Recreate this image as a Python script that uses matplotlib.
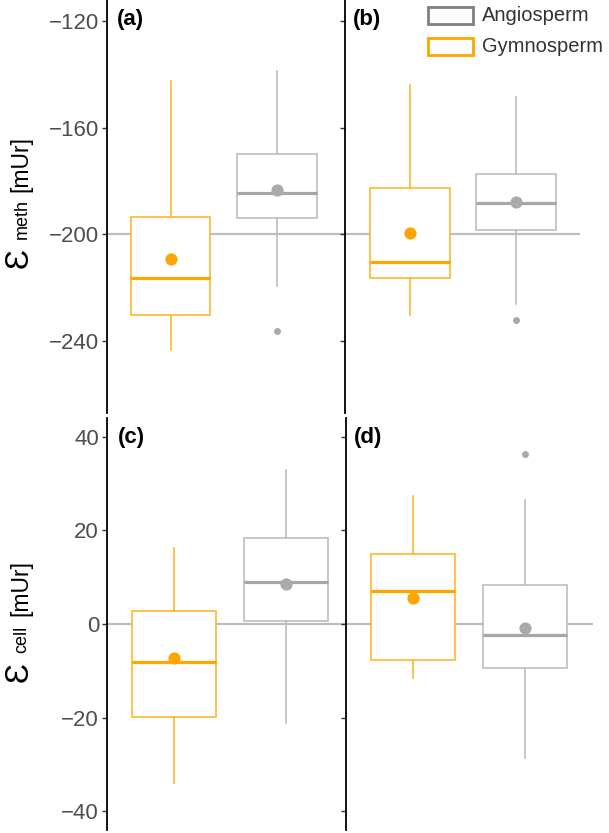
import matplotlib
matplotlib.use('Agg')
import matplotlib.pyplot as plt
from matplotlib.patches import Rectangle

plt.rcParams['font.family'] = ['Liberation Sans', 'DejaVu Sans']

W, H = 609, 833
orange = '#FFA500'
orange_line = '#FFB52E'
grey_line = '#BDBDBD'
grey_med = '#A6A6A6'
grey_dot = '#AAAAAA'

# five-number summaries: [lower whisker, q1, median, q3, upper whisker]
a_gym = [-243.6, -230.4, -216.6, -193.5, -142.5]
a_ang = [-219.5, -194.1, -184.7, -170.0, -138.8]
b_gym = [-230.4, -216.4, -210.4, -182.6, -144.0]
b_ang = [-226.4, -198.5, -188.3, -177.5, -148.7]
c_gym = [-34.0, -19.8, -8.0, 2.7, 16.2]
c_ang = [-21.2, 0.7, 8.9, 18.4, 32.9]
d_gym = [-11.5, -7.7, 7.0, 14.9, 27.4]
d_ang = [-28.6, -9.4, -2.3, 8.3, 26.5]

# means [gymnosperm, angiosperm]
a_mean = [-209.3, -183.5]
b_mean = [-199.7, -188.0]
c_mean = [-7.3, 8.5]
d_mean = [5.5, -0.9]

# outliers [gymnosperm, angiosperm]
a_out = [[], [-236.3]]
b_out = [[], [-232.3]]
c_out = [[], []]
d_out = [[], [36.3]]

top_ticks = [-120, -160, -200, -240]
bottom_ticks = [40, 20, 0, -20, -40]
legend_labels = ['Angiosperm', 'Gymnosperm']


def stats(five, mean, fliers):
    return dict(whislo=five[0], q1=five[1], med=five[2], q3=five[3],
                whishi=five[4], mean=mean, fliers=fliers)


def px_axes(left, top, right, bottom):
    return fig.add_axes([left / W, 1 - bottom / H, (right - left) / W, (bottom - top) / H])


def draw_panel(ax, gym, ang, means, outs, ref, ylim, xlim, ticks, show_labels):
    ax.set_facecolor('none')
    ax.hlines(ref, xlim[0], xlim[1], color='#BDBDBD', lw=1.6, zorder=1)
    for five, mean, fl, pos, edge, med, dot in [
            (gym, means[0], outs[0], 1, orange_line, orange, orange),
            (ang, means[1], outs[1], 2, grey_line, grey_med, grey_dot)]:
        ax.bxp([stats(five, mean, fl)], positions=[pos], widths=0.75,
               patch_artist=True, showcaps=False, showmeans=True,
               boxprops=dict(facecolor='white', edgecolor=edge, linewidth=1.2),
               whiskerprops=dict(color=edge, linewidth=1.2),
               medianprops=dict(color=med, linewidth=2.3),
               meanprops=dict(marker='o', markerfacecolor=dot,
                              markeredgecolor='none', markersize=8.8),
               flierprops=dict(marker='o', markerfacecolor=dot,
                               markeredgecolor='none', markersize=5),
               zorder=2)
    ax.set_xlim(*xlim)
    ax.set_ylim(*ylim)
    ax.set_yticks(ticks)
    if show_labels:
        ax.set_yticklabels([str(t).replace('-', '\u2212') for t in ticks])
    else:
        ax.set_yticklabels([])
    ax.set_xticks([])
    for s in ['top', 'right', 'bottom']:
        ax.spines[s].set_visible(False)
    ax.spines['left'].set_linewidth(1.3)
    ax.spines['left'].set_color('black')
    ax.tick_params(axis='y', length=3.5, width=1, color='#333333',
                   labelsize=16, labelcolor='#4D4D4D', pad=2)


fig = plt.figure(figsize=(W / 100, H / 100), dpi=100)

top_ylim = (-267.2, -112.1)
bot_ylim = (-43.95, 44.0)

ax_a = px_axes(106.7, 0, 345, 413)
ax_b = px_axes(345, 0, 580, 413)
ax_c = px_axes(106.7, 418, 345.7, 830)
ax_d = px_axes(345.7, 418, 592.7, 830)

draw_panel(ax_a, a_gym, a_ang, a_mean, a_out, -200, top_ylim, (0.4, 2.64), top_ticks, True)
draw_panel(ax_b, b_gym, b_ang, b_mean, b_out, -200, top_ylim, (0.387, 2.6), top_ticks, False)
draw_panel(ax_c, c_gym, c_ang, c_mean, c_out, 0, bot_ylim, (0.4, 2.53), bottom_ticks, True)
draw_panel(ax_d, d_gym, d_ang, d_mean, d_out, 0, bot_ylim, (0.397, 2.6), bottom_ticks, False)

for lab, x, y in [('(a)', 117, 20), ('(b)', 353, 20), ('(c)', 118, 437), ('(d)', 354, 437)]:
    fig.text(x / W, 1 - y / H, lab, fontsize=16, fontweight='bold',
             ha='left', va='center', color='black')


def ylabel(sub, y_eps, y_sub, y_unit):
    base = 27.5 / W
    kw = dict(rotation=90, rotation_mode='anchor', ha='center',
              va='baseline', color='black')
    fig.text(base, 1 - y_eps / H, '\u0190', fontsize=24, **kw)
    fig.text(base - 1 / W, 1 - y_sub / H, sub, fontsize=13, **kw)
    fig.text(base, 1 - y_unit / H, '[mUr]', fontsize=16.5, **kw)


ylabel('meth', 257.5, 219.5, 163.5)
ylabel('cell', 672, 639, 588.5)

# legend
for lab, y0, col in [(legend_labels[0], 6.7, '#7F7F7F'), (legend_labels[1], 38, orange)]:
    fig.add_artist(Rectangle((428 / W, 1 - (y0 + 17.3) / H), 45 / W, 17.3 / H,
                             transform=fig.transFigure, facecolor='white',
                             edgecolor=col, linewidth=2))
    fig.text(482 / W, 1 - (y0 + 8.7) / H, lab, fontsize=14.5, ha='left',
             va='center', color='#333333')

fig.savefig('out.png', dpi=100)
